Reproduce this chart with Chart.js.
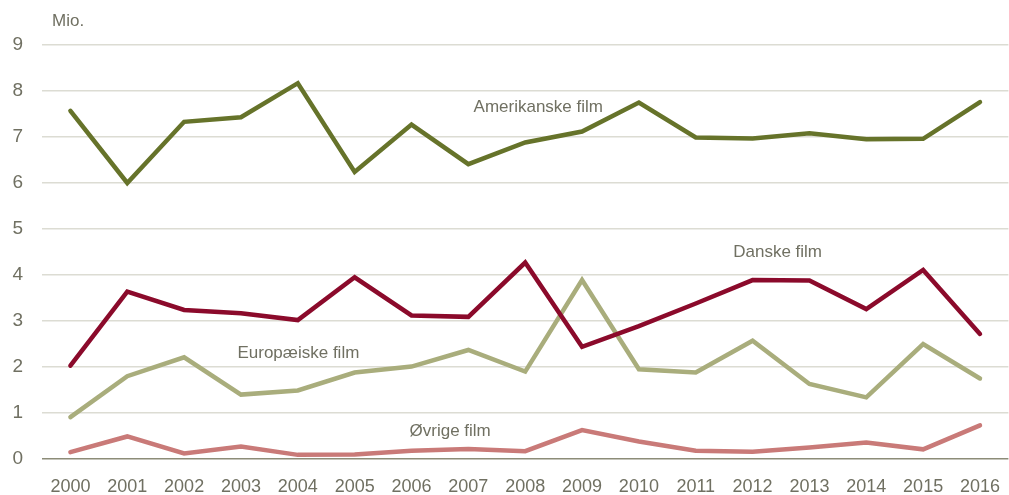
<!DOCTYPE html>
<html>
<head>
<meta charset="utf-8">
<script src="https://cdn.jsdelivr.net/npm/chart.js@4/dist/chart.umd.min.js"></script>
<style>
  html, body { margin: 0; padding: 0; background: #fff; overflow: hidden; }
  #wrap { position: relative; width: 1017px; height: 495px; }
</style>
</head>
<body>
<div id="wrap"><canvas id="lineChart"></canvas></div>
<script>
const years = ['2000', '2001', '2002', '2003', '2004', '2005', '2006', '2007', '2008',
               '2009', '2010', '2011', '2012', '2013', '2014', '2015', '2016'];

const amerikanske = [7.57, 6.00, 7.33, 7.43, 8.17, 6.24, 7.27, 6.41, 6.88,
                     7.12, 7.75, 6.99, 6.97, 7.08, 6.95, 6.96, 7.76];
const danske = [2.03, 3.64, 3.24, 3.17, 3.02, 3.95, 3.12, 3.09, 4.27,
                2.44, 2.89, 3.38, 3.89, 3.88, 3.26, 4.11, 2.72];
const europaeiske = [0.91, 1.80, 2.21, 1.40, 1.49, 1.88, 2.01, 2.37, 1.90,
                     3.89, 1.95, 1.88, 2.57, 1.63, 1.34, 2.50, 1.75];
const oevrige = [0.15, 0.49, 0.12, 0.27, 0.09, 0.10, 0.18, 0.22, 0.17,
                 0.63, 0.38, 0.18, 0.16, 0.25, 0.36, 0.21, 0.73];

const seriesNames = ['Amerikanske film', 'Danske film', 'Europæiske film', 'Øvrige film'];
const seriesColors = ['#66732a', '#8b0a2b', '#a9ad7c', '#c97a78'];
// label anchors in data units: category index and value
const labelIndex = [8.23, 12.44, 4.01, 6.68];
const labelValue = [7.65, 4.5, 2.3, 0.61];

const textColor = '#707062';
const fontFamily = '"Liberation Sans Narrow", "Liberation Sans", Arial, sans-serif';

const inlineLabels = {
    id: 'inlineLabels',
    afterDatasetsDraw(chart) {
        const { ctx, scales } = chart;
        ctx.save();
        ctx.fillStyle = textColor;
        ctx.font = '17px ' + fontFamily;
        ctx.textAlign = 'center';
        ctx.textBaseline = 'middle';
        seriesNames.forEach((name, i) => {
            const x0 = scales.x.getPixelForValue(0);
            const step = scales.x.getPixelForValue(1) - x0;
            ctx.fillText(name, x0 + labelIndex[i] * step, scales.y.getPixelForValue(labelValue[i]));
        });
        ctx.textAlign = 'left';
        ctx.font = '17px ' + fontFamily;
        ctx.fillText('Mio.', scales.y.right + 10, 21);
        ctx.restore();
    }
};

const ctx = document.getElementById('lineChart').getContext('2d');
const allSeries = [amerikanske, danske, europaeiske, oevrige];

new Chart(ctx, {
    type: 'line',
    data: {
        labels: years,
        datasets: allSeries.map((d, i) => ({
            label: seriesNames[i],
            data: d,
            borderColor: seriesColors[i],
            backgroundColor: seriesColors[i],
            borderWidth: 4.5,
            borderCapStyle: 'round',
            borderJoinStyle: 'miter',
            pointRadius: 0,
            tension: 0,
            fill: false
        }))
    },
    options: {
        responsive: true,
        maintainAspectRatio: false,
        animation: false,
        layout: { padding: { top: 45, right: 0, bottom: 0, left: 0 } },
        plugins: {
            legend: { display: false },
            tooltip: { enabled: false }
        },
        scales: {
            x: {
                offset: true,
                grid: { display: false, drawTicks: false },
                border: { display: false },
                ticks: {
                    color: textColor,
                    font: { family: fontFamily, size: 18 },
                    padding: 17,
                    maxRotation: 0,
                    autoSkip: false
                },
                afterFit(scale) { scale.height = 36; }
            },
            y: {
                min: 0,
                max: 9,
                grid: {
                    drawTicks: false,
                    lineWidth: 1.5,
                    color: (c) => c.tick && c.tick.value === 0 ? '#8c8c78' : '#dcdcd3'
                },
                border: { display: false },
                ticks: {
                    stepSize: 1,
                    color: textColor,
                    font: { family: fontFamily, size: 19 },
                    padding: 19
                },
                afterFit(scale) { scale.width = 42; }
            }
        }
    },
    plugins: [inlineLabels]
});
</script>
</body>
</html>
